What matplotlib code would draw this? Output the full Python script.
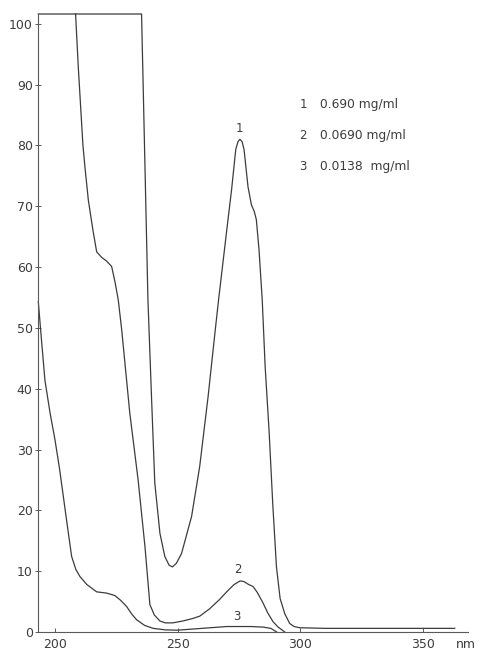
import matplotlib
matplotlib.use("Agg")
import matplotlib.pyplot as plt

# curve 1: 0.690 mg/ml (off scale at the top below ~235 nm)
nm1 = [193.2, 235.3, 236.5, 237.9, 239.4, 240.7, 242.8, 244.8, 246.5, 247.9,
       249.5, 251.6, 255.7, 259.0, 262.4, 265.2, 266.7, 269.9, 272.0, 273.7,
       274.6, 275.4, 276.3, 277.1, 278.7, 280.1, 281.2, 282.1, 283.2, 284.5,
       285.7, 287.3, 288.8, 290.3, 291.8, 293.7, 295.7, 297.5, 299.8, 310.0,
       330.0, 350.0, 363.0]
abs1 = [101.6, 101.6, 80.0, 54.6, 38.2, 24.5, 16.2, 12.4, 11.0, 10.7,
        11.3, 12.9, 19.0, 27.2, 38.6, 49.1, 54.6, 65.6, 72.7, 79.3,
        80.6, 81.0, 80.6, 79.3, 73.2, 70.2, 69.2, 67.8, 62.8, 54.6,
        43.6, 33.0, 21.0, 10.7, 5.5, 3.0, 1.4, 0.9, 0.7, 0.6,
        0.6, 0.6, 0.6]

# curve 2: 0.0690 mg/ml
nm2 = [208.4, 209.5, 211.4, 212.2, 213.6, 215.5, 217.0, 219.0, 221.0, 223.1,
       224.5, 225.8, 227.2, 230.5, 233.9, 236.7, 238.7, 240.5, 242.8, 245.0,
       248.0, 252.0, 256.0, 259.0, 263.0, 267.0, 270.0, 273.0, 275.5, 277.0,
       279.0, 280.7, 282.5, 284.8, 286.8, 288.9, 291.0, 293.7]
abs2 = [101.6, 92.9, 80.0, 76.5, 71.0, 66.0, 62.5, 61.6, 61.0, 60.1,
        57.5, 54.6, 49.7, 36.0, 25.0, 14.0, 4.5, 2.8, 1.8, 1.5,
        1.5, 1.8, 2.2, 2.6, 3.8, 5.3, 6.6, 7.8, 8.4, 8.3,
        7.8, 7.5, 6.5, 4.8, 3.1, 1.7, 0.8, 0.0]

# curve 3: 0.0138 mg/ml
nm3 = [193.2, 194.5, 195.9, 198.0, 200.0, 201.8, 203.4, 205.2, 206.8, 208.5,
       210.2, 213.0, 217.0, 221.0, 224.4, 226.8, 229.2, 231.2, 233.3, 236.5,
       240.0, 245.0, 250.0, 260.0, 270.0, 280.0, 285.0, 288.0, 290.4]
abs3 = [54.3, 48.0, 41.4, 36.0, 31.6, 27.0, 22.3, 17.0, 12.4, 10.3,
        9.1, 7.8, 6.6, 6.4, 6.0, 5.2, 4.2, 3.0, 2.0, 1.1,
        0.6, 0.35, 0.3, 0.6, 0.9, 0.9, 0.8, 0.6, 0.0]

legend_lines = ["0.690 mg/ml", "0.0690 mg/ml", "0.0138  mg/ml"]
x_ticks = [200, 250, 300, 350]
y_ticks = list(range(0, 101, 10))

ink = "#3c3c3c"
fig = plt.figure(figsize=(4.81, 6.5), dpi=100)
ax = fig.add_axes([38.3 / 481, 18 / 650, (468 - 38.3) / 481, (632 - 14) / 650])

for xs, ys in [(nm1, abs1), (nm2, abs2), (nm3, abs3)]:
    ax.plot(xs, ys, color=ink, lw=0.9, clip_on=False)

ax.set_xlim(193.2, 368.4)
ax.set_ylim(0, 101.6)
for side in ["top", "right"]:
    ax.spines[side].set_visible(False)
for side in ["left", "bottom"]:
    ax.spines[side].set_color("#5a5a5a")
    ax.spines[side].set_linewidth(0.8)

ax.set_xticks(x_ticks)
ax.set_yticks(y_ticks)
ax.tick_params(axis="x", direction="in", length=3, width=0.7, color="#5a5a5a",
               labelsize=9, labelcolor=ink, pad=4)
ax.tick_params(axis="y", direction="inout", length=4, width=0.7, color="#5a5a5a",
               labelsize=9, labelcolor=ink, pad=2)

# unit label at the end of the x axis
ax.text(367.5, -2.1, "nm", ha="center", va="center", fontsize=9, color=ink)

# curve numbers
ax.text(275.0, 82.7, "1", ha="center", va="center", fontsize=8.5, color=ink)
ax.text(274.6, 10.2, "2", ha="center", va="center", fontsize=8.5, color=ink)
ax.text(274.2, 2.5, "3", ha="center", va="center", fontsize=8.5, color=ink)

# concentration key
for i, label in enumerate(legend_lines):
    y = 86.7 - 5.1 * i
    ax.text(301.1, y, str(i + 1), ha="center", va="center", fontsize=8.5, color=ink)
    ax.text(307.9, y, label, ha="left", va="center", fontsize=8.8, color=ink)

fig.savefig("out.png", dpi=100)
